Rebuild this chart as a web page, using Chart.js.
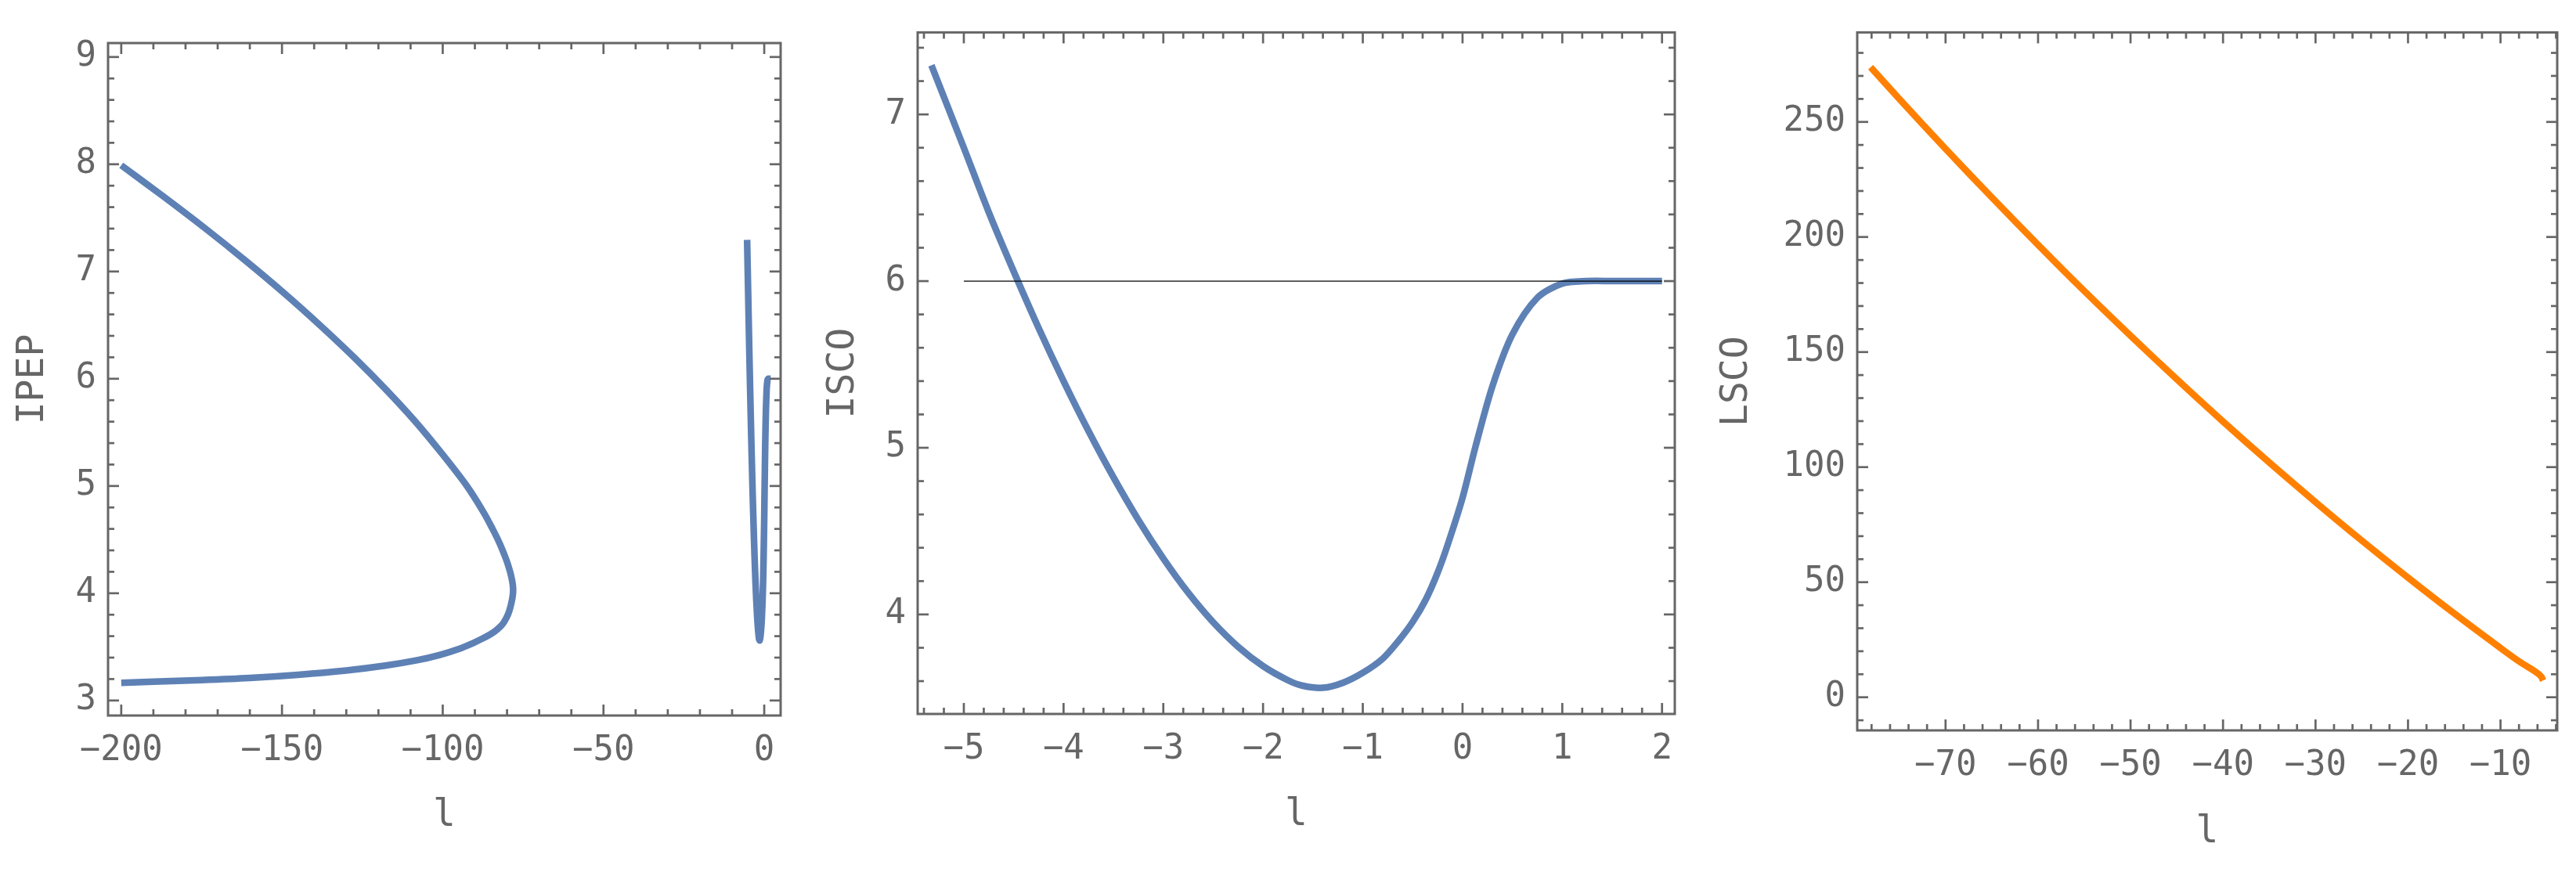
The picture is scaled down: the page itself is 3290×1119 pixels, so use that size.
<!DOCTYPE html>
<html><head><meta charset="utf-8">
<script src="https://cdn.jsdelivr.net/npm/chart.js@4.4.1/dist/chart.umd.min.js"></script>
<style>
html,body{margin:0;padding:0;background:#fff;width:3290px;height:1119px;overflow:hidden;}
canvas{position:absolute;top:0;}
</style></head><body>
<canvas id="c1" width="1040" height="1119" style="left:0px"></canvas>
<canvas id="c2" width="1160" height="1119" style="left:1020px"></canvas>
<canvas id="c3" width="1130" height="1119" style="left:2160px"></canvas>
<script>
// ---------- data ----------
const ipepL = [-200.0, -186.9, -173.8, -161.3, -149.4, -138.2, -127.6, -117.7, -108.5, -100.2, -92.5, -87.2, -84.5, -82.84, -81.37, -80.09, -79.05, -78.5, -78.22, -78.1,
               -78.22, -78.5, -79.05, -79.6, -80.3, -81.2, -82.4, -83.8, -85.6, -87.8, -90.6, -95.0, -100.9, -108.0, -117.9, -130.0, -145.0, -160.0, -175.0, -190.0, -200.0];
const ipepV = [7.99, 7.7, 7.4, 7.1, 6.8, 6.5, 6.2, 5.9, 5.6, 5.3, 5.0, 4.75, 4.6, 4.5, 4.4, 4.3, 4.2, 4.13, 4.08, 4.03,
               3.98, 3.93, 3.86, 3.81, 3.765, 3.72, 3.68, 3.645, 3.61, 3.575, 3.535, 3.48, 3.425, 3.375, 3.325, 3.28, 3.24, 3.21, 3.19, 3.175, 3.165];

const iscoL = [-5.325, -5.0, -4.75, -4.5, -4.25, -4.0, -3.75, -3.5, -3.25, -3.0, -2.75, -2.5, -2.25, -2.0, -1.75, -1.6, -1.4,
               -1.2, -1.0, -0.8, -0.644, -0.5, -0.368, -0.25, -0.148, 0.0, 0.127, 0.3, 0.5, 0.75, 1.0, 1.25, 1.5, 2.0];
const iscoV = [7.295, 6.80, 6.413, 6.058, 5.719, 5.40, 5.101, 4.823, 4.567, 4.336, 4.13, 3.953, 3.806, 3.69, 3.605, 3.572, 3.56,
               3.59, 3.65, 3.735, 3.84, 3.955, 4.09, 4.25, 4.42, 4.70, 5.0, 5.37, 5.68, 5.90, 5.985, 6.0, 6.0, 6.0];

const refL = [-5, 2];
const refV = [6, 6];

const lscoL = [-78.1, -75, -70, -65, -60, -55, -50, -45, -40, -35, -30, -25, -20, -15, -10, -8, -6.2, -5.6, -5.4];
const lscoV = [273.8, 260.0, 238.3, 217.2, 196.6, 176.5, 157.1, 138.2, 119.8, 102.0, 84.8, 68.1, 52.0, 36.4, 21.4, 15.6, 11.0, 9.0, 7.3];

// tick labels
const ticks1X = [-200, -150, -100, -50, 0];
const ticks1Y = [3, 4, 5, 6, 7, 8, 9];
const ticks2X = [-5, -4, -3, -2, -1, 0, 1, 2];
const ticks2Y = [4, 5, 6, 7];
const ticks3X = [-70, -60, -50, -40, -30, -20, -10];
const ticks3Y = [0, 50, 100, 150, 200, 250];

// ---------- helpers ----------
const pts = (xs, ys) => xs.map((x, i) => ({x: x, y: ys[i]}));
const GRAY = '#666666';
const FONT = "'DejaVu Sans Mono', 'Liberation Mono', monospace";
const fmt = v => (v < 0 ? '\u2212' + Math.abs(v) : String(v));

const frameTicks = {
  id: 'frameTicks',
  afterDraw(chart, args, o) {
    const {ctx, chartArea: a, scales: {x, y}} = chart;
    ctx.save();
    ctx.strokeStyle = GRAY;
    ctx.lineWidth = 2.7;
    const seg = (x1, y1, x2, y2) => { ctx.beginPath(); ctx.moveTo(x1, y1); ctx.lineTo(x2, y2); ctx.stroke(); };
    const each = (scale, minor, major, fn) => {
      const k0 = Math.ceil(scale.min / minor - 1e-9), k1 = Math.floor(scale.max / minor + 1e-9);
      for (let k = k0; k <= k1; k++) {
        const v = k * minor;
        const r = v / major;
        const isMajor = Math.abs(r - Math.round(r)) < 1e-6;
        fn(scale.getPixelForValue(v), isMajor ? 14 : 8);
      }
    };
    each(x, o.xMinor, o.xMajor, (p, len) => { seg(p, a.bottom, p, a.bottom - len); seg(p, a.top, p, a.top + len); });
    each(y, o.yMinor, o.yMajor, (p, len) => { seg(a.left, p, a.left + len, p); seg(a.right, p, a.right - len, p); });
    ctx.lineWidth = 3;
    ctx.strokeRect(a.left, a.top, a.right - a.left, a.bottom - a.top);
    ctx.restore();
  }
};

function makeChart(id, cfg) {
  const tickFont = {family: FONT, size: 44};
  const titleFont = {family: FONT, size: 48};
  return new Chart(document.getElementById(id), {
    type: 'scatter',
    data: {datasets: cfg.datasets},
    options: {
      responsive: false,
      animation: false,
      devicePixelRatio: 1,
      layout: {padding: {left: 0, top: cfg.padTop, right: cfg.padRight, bottom: 0}},
      plugins: {legend: {display: false}, tooltip: {enabled: false}, frameTicks: cfg.ticks},
      elements: {point: {radius: 0}},
      scales: {
        x: {
          type: 'linear', min: cfg.xRange[0], max: cfg.xRange[1],
          border: {display: false},
          grid: {display: false, drawTicks: false},
          afterBuildTicks: s => { s.ticks = cfg.xTicks.map(v => ({value: v})); },
          afterFit: s => { s.height = cfg.xAxisH; },
          ticks: {font: tickFont, color: GRAY, padding: 19, autoSkip: false, maxRotation: 0, callback: v => fmt(v)},
          title: {display: true, text: 'l', font: titleFont, color: GRAY, padding: {top: 0, bottom: cfg.xTitlePad}}
        },
        y: {
          type: 'linear', min: cfg.yRange[0], max: cfg.yRange[1],
          border: {display: false},
          grid: {display: false, drawTicks: false},
          afterBuildTicks: s => { s.ticks = cfg.yTicks.map(v => ({value: v})); },
          afterFit: s => { s.width = cfg.yAxisW; },
          ticks: {font: tickFont, color: GRAY, padding: 15, autoSkip: false, callback: v => fmt(v)},
          title: {display: true, text: cfg.yTitle, font: titleFont, color: GRAY, padding: {top: cfg.yTitlePad, bottom: 0}}
        }
      }
    },
    plugins: [frameTicks]
  });
}

const BLUE = '#5E81B5';
const ORANGE = '#FF8000';
const line = (data, color, w, t) => ({data: data, showLine: true, borderColor: color, backgroundColor: color, borderWidth: w, pointRadius: 0, tension: t, fill: false});

makeChart('c1', {
  datasets: [line(pts(ipepL, ipepV), BLUE, 8.5, 0.3), line(pts(iscoL, iscoV), BLUE, 8.5, 0.2)],
  xRange: [-204.1, 5.1], yRange: [2.86, 9.13],
  xTicks: ticks1X, yTicks: ticks1Y,
  padTop: 55, padRight: 43, xAxisH: 205, yAxisW: 138,
  yTitle: 'IPEP', yTitlePad: 14, xTitlePad: 48,
  ticks: {xMajor: 50, xMinor: 10, yMajor: 1, yMinor: 0.2}
});

makeChart('c2', {
  datasets: [line(pts(refL, refV), '#000000', 1.3, 0), line(pts(iscoL, iscoV), BLUE, 8.5, 0.3)],
  xRange: [-5.463, 2.128], yRange: [3.403, 7.492],
  xTicks: ticks2X, yTicks: ticks2Y,
  padTop: 40, padRight: 41, xAxisH: 207, yAxisW: 152,
  yTitle: 'ISCO', yTitlePad: 29, xTitlePad: 49,
  ticks: {xMajor: 1, xMinor: 0.2, yMajor: 1, yMinor: 0.2}
});

makeChart('c3', {
  datasets: [line(pts(lscoL, lscoV), ORANGE, 8.5, 0.3)],
  xRange: [-79.55, -3.87], yRange: [-14.4, 288.9],
  xTicks: ticks3X, yTicks: ticks3Y,
  padTop: 39, padRight: 24, xAxisH: 186, yAxisW: 212,
  yTitle: 'LSCO', yTitlePad: 30, xTitlePad: 27,
  ticks: {xMajor: 10, xMinor: 2, yMajor: 50, yMinor: 10}
});
</script>
</body></html>
